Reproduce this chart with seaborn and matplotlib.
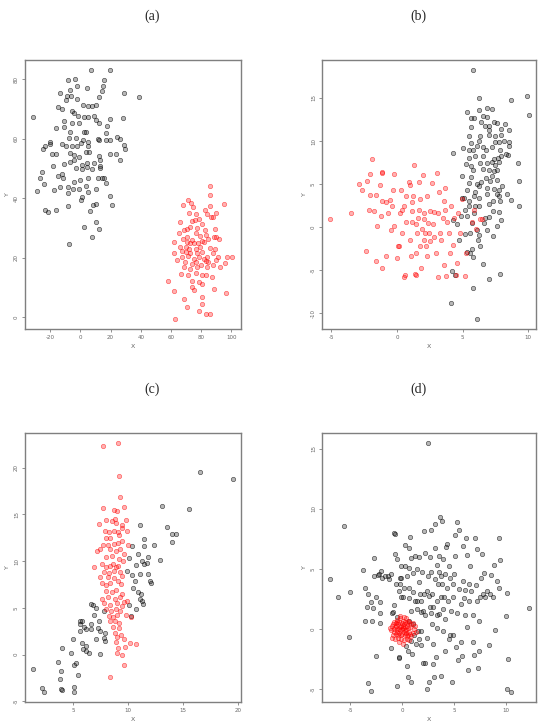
import numpy as np
import pandas as pd
import matplotlib
matplotlib.use('Agg')
import matplotlib.pyplot as plt
import seaborn as sns

# ── Data ─────────────────────────────────────────────────────────────────────

A_BLACK = [(7.1,83.2),(19.4,83.1),(-8.4,79.8),(-3.5,80.2),(15.9,79.8),(-2.2,77.6),(4.4,77.0),(15.0,77.8),
    (-13.7,75.5),(-6.6,76.4),(14.6,76.2),(28.9,75.5),(38.9,74.1),(-8.8,74.5),(-6.2,74.5),(12.4,74.1),
    (-9.7,73.1),(-2.2,73.4),(-31.1,67.2),(-15.0,70.8),(-11.9,70.0),(-5.3,69.4),(-4.4,68.8),(1.8,71.4),
    (4.9,71.0),(7.9,71.0),(10.6,71.4),(-1.3,67.5),(2.2,67.2),(4.9,67.2),(8.8,67.7),(19.9,66.8),(28.0,67.0),
    (-16.3,63.7),(-10.6,66.1),(-5.7,65.4),(-0.9,65.2),(10.6,66.3),(12.4,65.4),(17.7,64.3),(-11.0,63.9),
    (-6.6,62.4),(2.2,62.3),(3.5,62.3),(17.2,62.1),(-7.5,60.3),(-2.6,60.3),(1.8,59.6),(11.5,59.8),(24.3,60.7),
    (26.0,59.8),(-24.7,56.5),(-19.9,59.0),(-20.3,58.2),(-23.4,57.6),(-12.4,58.2),(-9.3,57.4),(-5.3,57.4),
    (-2.2,57.4),(0.4,58.7),(4.9,58.9),(5.3,57.4),(12.4,59.6),(16.8,59.6),(19.9,59.6),(29.1,57.9),(29.6,56.7),
    (-19.0,54.7),(-15.9,54.9),(-7.1,55.3),(-4.4,54.5),(-0.9,54.0),(3.5,55.7),(5.7,55.7),(12.4,54.2),
    (13.2,52.9),(19.4,54.9),(23.4,54.9),(26.5,52.9),(-18.1,50.8),(-11.0,51.5),(-7.1,52.3),(-4.4,52.9),
    (0.9,51.2),(4.4,52.0),(8.8,51.7),(13.2,50.8),(-25.6,48.9),(-14.6,47.3),(-11.9,48.1),(-3.1,50.1),
    (1.3,49.7),(4.4,50.6),(8.0,49.7),(13.2,50.1),(-26.9,46.7),(-24.1,44.8),(-11.5,46.7),(-4.4,45.6),
    (0.0,46.1),(4.9,46.7),(11.5,46.7),(14.6,46.7),(15.5,46.7),(17.2,45.2),(-28.7,42.5),(-17.2,42.8),
    (-13.2,43.7),(-7.9,43.9),(-4.9,43.0),(-0.9,43.2),(3.5,44.1),(4.9,42.2),(10.2,43.0),(-7.9,41.6),
    (0.9,40.3),(0.4,39.4),(19.4,40.7),(8.4,37.7),(10.6,38.0),(21.2,37.6),(-23.4,36.0),(-21.6,35.4),
    (-16.3,36.0),(-8.4,37.4),(6.2,35.8),(10.6,31.9),(2.6,30.2),(12.4,29.7),(7.9,27.0),(-7.5,24.5)]

A_RED = [(86.1,44.1),(86.1,41.0),(95.4,37.9),(71.1,39.3),(73.3,38.5),(68.0,37.8),(74.6,37.0),(85.6,37.3),
    (82.6,36.0),(72.0,34.9),(76.4,34.7),(83.9,34.7),(89.6,35.1),(78.6,33.1),(86.3,33.6),(88.0,33.6),
    (66.2,32.1),(74.2,32.2),(75.9,32.7),(80.8,31.3),(68.4,29.3),(70.6,29.7),(72.8,30.4),(77.3,30.0),
    (82.6,29.3),(89.2,29.5),(62.3,25.3),(66.2,23.7),(68.0,26.2),(70.6,25.3),(72.4,24.8),(74.2,25.9),
    (75.5,25.0),(78.1,24.8),(80.4,25.7),(82.1,25.3),(83.4,27.5),(84.8,26.4),(88.3,27.0),(90.1,26.8),
    (91.8,26.4),(67.1,22.3),(69.8,21.9),(72.0,22.8),(76.8,23.0),(79.5,23.7),(85.6,23.2),(89.2,23.0),
    (62.3,21.4),(67.5,20.1),(71.1,20.5),(75.1,19.6),(78.6,20.3),(81.7,19.4),(84.8,18.5),(91.4,20.3),
    (97.1,20.3),(100.7,20.1),(73.7,17.8),(76.8,18.5),(79.9,17.4),(83.4,18.9),(87.9,17.4),(95.8,18.1),
    (68.4,16.9),(77.3,16.9),(83.9,16.9),(66.7,14.5),(71.5,14.0),(76.4,14.9),(80.8,14.0),(83.4,14.0),
    (87.0,13.6),(58.3,12.2),(74.2,12.2),(78.6,11.8),(80.8,11.1),(73.7,10.0),(88.3,9.3),(61.8,8.9),
    (75.1,9.1),(96.2,8.0),(80.4,6.6),(68.9,6.2),(70.6,3.3),(80.8,4.4),(78.6,1.9),(83.4,1.2),(86.1,1.2),
    (62.5,-0.8),(69.8,23.7),(72.8,21.4),(77.3,21.4),(80.4,21.9),(87.6,21.4),(70.6,27.0),(79.0,27.3),
    (76.4,28.2),(65.3,28.2),(83.9,20.3),(89.6,19.2),(92.7,16.9),(64.0,19.2),(69.3,18.5),(72.4,16.3)]

B_BLACK = [(5.76,18.29),(6.27,15.0),(9.87,15.27),(8.68,14.77),(10.03,13.07),(5.31,13.37),(6.22,13.6),
    (6.88,13.83),(7.24,13.72),(5.66,12.64),(5.86,12.64),(6.52,12.95),(6.88,12.79),(7.39,12.25),(7.64,12.09),
    (8.2,12.02),(5.61,11.63),(6.42,12.25),(6.68,11.78),(7.03,11.7),(7.03,11.31),(8.5,11.23),(7.94,11.39),
    (5.51,10.62),(6.32,10.54),(6.98,10.7),(7.44,10.62),(7.9,10.7),(6.22,10.0),(7.49,9.93),(7.8,9.85),
    (8.15,10.0),(8.55,9.85),(5.61,9.77),(5.0,9.19),(6.06,9.46),(6.52,9.31),(7.24,9.31),(8.5,9.38),
    (4.29,8.58),(5.46,8.92),(5.81,9.0),(6.78,9.0),(7.84,8.92),(8.3,8.53),(8.45,8.42),(5.51,8.03),
    (5.97,8.22),(6.57,8.22),(7.39,7.91),(7.69,8.07),(7.94,8.22),(5.25,7.37),(5.66,7.14),(6.32,7.45),
    (6.83,7.45),(7.24,7.6),(7.49,7.22),(7.74,7.53),(9.22,7.41),(5.76,6.68),(6.52,6.76),(6.98,6.68),
    (7.39,6.53),(7.59,6.68),(4.95,5.98),(5.66,5.83),(7.24,5.9),(6.78,5.67),(5.51,5.13),(6.06,5.05),
    (6.27,4.82),(6.42,5.21),(7.08,5.36),(7.64,5.44),(9.32,5.36),(5.36,4.36),(5.97,4.05),(6.88,4.51),
    (7.39,4.44),(7.8,4.28),(8.0,4.74),(5.86,3.66),(6.27,3.43),(6.83,3.82),(7.59,3.89),(7.8,3.58),
    (8.4,3.82),(4.95,3.35),(5.1,3.43),(5.51,3.04),(6.22,2.5),(5.97,2.5),(7.03,2.73),(7.34,3.04),
    (7.84,3.04),(8.7,3.12),(9.27,2.5),(5.51,2.42),(5.15,1.96),(5.86,1.65),(7.28,1.84),(7.8,1.8),
    (4.85,1.34),(5.36,1.26),(6.73,1.03),(7.03,1.18),(4.29,0.87),(4.59,0.33),(5.71,0.49),(6.62,0.49),
    (7.59,0.1),(7.9,0.87),(6.06,-0.29),(6.88,-0.29),(5.15,-0.75),(5.56,-0.68),(6.22,-0.91),(7.34,-1.07),
    (4.74,-1.45),(6.17,-1.45),(6.32,-2.15),(5.3,-2.93),(5.71,-2.53),(5.56,-3.0),(5.81,-3.47),(6.57,-4.24),
    (4.19,-5.13),(4.44,-5.52),(7.84,-5.44),(6.98,-5.98),(5.81,-7.02),(4.09,-8.76),(6.12,-10.7)]

B_RED = [(-5.08,0.99),(-3.5,1.65),(-2.39,-2.73),(-2.89,5.05),(-2.64,4.36),(-2.28,5.32),(-1.88,7.86),
    (-2.03,6.21),(-2.03,3.78),(-2.13,2.03),(-1.73,1.84),(-1.57,3.74),(-1.32,4.94),(-1.17,6.45),(-1.12,6.29),
    (-1.17,3.0),(-1.22,1.26),(-1.52,0.1),(-1.57,-3.93),(-1.12,-4.78),(-0.86,-3.39),(-0.81,2.88),(-0.71,1.65),
    (-0.56,3.19),(-0.43,-0.37),(-0.2,6.21),(-0.36,2.42),(-0.2,0.1),(0.05,-2.15),(0.15,-2.15),(0.0,-3.58),
    (0.2,1.65),(0.3,4.28),(0.36,2.03),(0.41,-0.67),(0.51,2.42),(0.56,-5.79),(0.61,-5.56),(0.71,0.56),
    (0.91,5.2),(0.96,-1.46),(1.02,4.94),(1.07,-3.39),(1.12,1.84),(1.17,0.56),(1.17,2.96),(1.22,3.66),
    (1.32,7.25),(1.37,-5.4),(1.47,-5.56),(1.47,-3.0),(1.52,-0.67),(1.57,1.07),(1.68,5.2),(1.68,2.03),
    (1.73,3.27),(1.78,-2.23),(1.83,-4.74),(1.93,-0.21),(1.98,6.09),(2.03,0.95),(2.03,-1.46),(2.08,1.65),
    (2.13,-0.67),(2.23,-2.23),(2.28,-3.39),(2.39,0.49),(2.44,-0.67),(2.49,1.84),(2.54,-1.65),(2.64,5.13),
    (2.74,0.41),(2.79,1.8),(2.84,-1.14),(2.94,-3.0),(3.05,6.33),(3.1,1.65),(3.15,-5.79),(3.2,4.05),
    (3.25,-0.67),(3.38,-1.46),(3.5,1.07),(3.55,-4.35),(3.6,3.04),(3.65,4.51),(3.65,2.03),(3.71,-5.64),
    (3.81,0.56),(3.96,-0.67),(4.01,-3.0),(4.11,2.42),(4.26,-2.03),(4.37,1.07),(4.47,-5.56),(4.57,-4.16),
    (4.67,1.65),(4.77,-0.67),(5.18,-5.71),(5.23,-3.0),(4.92,3.27),(5.69,0.56),(5.89,2.03),(6.04,-0.21),
    (6.35,0.95),(6.5,0.95),(1.42,0.41),(2.28,3.66),(0.71,3.58),(-0.3,4.36)]

C_BLACK = [(19.52,18.82),(16.55,19.57),(15.52,15.62),(13.06,15.87),(13.97,12.88),(13.58,13.66),
    (14.36,12.88),(14.0,11.99),(12.94,10.1),(12.36,11.74),(11.48,12.41),(11.06,13.91),(11.48,11.6),
    (10.33,11.6),(10.88,10.74),(11.79,10.46),(10.09,10.38),(10.7,9.53),(11.24,9.96),(11.48,9.67),
    (11.73,9.82),(9.91,8.96),(10.39,8.46),(10.64,7.89),(11.06,8.6),(11.85,8.6),(11.97,7.82),(12.09,7.68),
    (10.45,7.11),(10.88,6.65),(11.18,6.47),(11.12,5.97),(11.3,5.68),(11.36,5.4),(10.09,5.33),(10.7,4.9),
    (10.27,4.12),(6.64,5.4),(6.82,5.33),(7.12,4.97),(6.94,4.26),(7.85,4.69),(5.67,3.55),(5.85,3.62),
    (5.61,3.26),(6.0,2.91),(6.64,3.26),(7.36,3.55),(7.24,2.84),(7.48,2.48),(7.91,2.27),(6.15,2.7),
    (5.67,2.55),(6.64,2.7),(7.85,1.77),(7.91,1.48),(7.06,1.62),(5.0,1.69),(5.85,1.2),(6.21,0.91),
    (5.91,0.56),(6.15,0.34),(6.45,0.13),(7.42,0.06),(4.03,0.7),(4.82,0.2),(3.67,-0.83),(5.24,-0.87),
    (5.06,-1.08),(3.91,-1.72),(5.48,-2.22),(3.79,-2.65),(1.42,-1.55),(2.15,-3.58),(2.39,-4.04),
    (3.91,-3.72),(4.03,-3.79),(5.06,-3.43),(5.12,-4.04)]

C_RED = [(7.76,22.28),(9.09,22.64),(9.15,19.07),(9.24,16.87),(7.73,15.69),(8.7,15.51),(9.0,15.37),
    (9.61,15.76),(7.36,13.95),(8.03,14.44),(8.58,14.3),(8.82,14.48),(8.94,14.09),(9.42,13.91),(9.79,14.41),
    (7.91,13.23),(8.27,13.16),(8.7,13.23),(9.06,13.09),(9.42,13.59),(9.91,13.27),(9.18,12.81),(8.03,12.52),
    (8.39,12.52),(7.73,11.74),(8.15,11.7),(8.76,11.81),(9.06,11.95),(9.48,12.17),(10.03,11.7),(7.18,11.1),
    (7.48,11.24),(8.39,11.24),(8.88,11.1),(9.3,11.24),(9.67,10.81),(8.03,10.46),(8.58,10.56),(9.18,10.21),
    (9.55,9.96),(6.94,9.39),(7.61,9.67),(8.03,9.32),(8.39,9.49),(8.88,9.32),(9.12,9.49),(7.79,8.78),
    (8.27,8.68),(8.7,8.89),(9.3,8.82),(9.48,8.43),(7.48,8.25),(8.15,8.25),(8.76,8.18),(7.61,7.71),
    (7.97,7.46),(8.39,7.71),(9.12,7.82),(9.36,7.54),(8.03,6.82),(8.58,6.65),(8.94,6.89),(9.48,6.47),
    (7.67,5.93),(8.21,6.11),(8.82,5.9),(9.24,6.11),(9.67,5.61),(7.85,5.47),(8.39,5.33),(9.0,5.47),
    (9.48,5.22),(8.03,4.86),(8.45,4.69),(8.88,4.83),(9.3,4.62),(9.79,4.19),(8.27,4.12),(8.64,4.05),
    (9.0,4.26),(8.33,3.62),(8.82,3.55),(9.18,3.4),(8.64,2.98),(9.18,2.83),(8.82,2.34),(9.0,1.91),
    (9.36,2.12),(9.67,1.62),(10.15,1.27),(10.7,1.13),(8.94,1.31),(9.06,0.7),(9.73,0.77),(9.0,0.13),
    (9.48,-0.09),(9.61,-1.15),(8.39,-2.36),(9.91,5.75),(10.27,3.97),(8.64,9.74)]

D_BLACK = [(2.52,15.44),(-5.58,8.58),(-6.96,4.13),(-6.19,2.64),(-5.03,3.13),(-5.16,-0.65),(-3.75,4.93),
    (-3.62,3.41),(-3.62,0.64),(-3.36,1.87),(-3.24,2.91),(-3.24,-4.5),(-2.99,-5.11),(-2.99,2.24),(-2.92,0.64),
    (-2.8,1.72),(-2.74,5.95),(-2.68,4.4),(-2.48,2.64),(-2.48,-2.23),(-2.35,4.51),(-2.22,4.62),(-2.1,2.24),
    (-2.04,4.84),(-2.16,1.31),(-2.1,0.53),(-1.91,4.29),(-1.65,4.4),(-1.33,4.4),(-1.27,4.16),(-1.08,4.62),
    (-0.98,1.37),(-1.05,-1.57),(-0.92,1.39),(-0.79,1.97),(-0.79,8.03),(-0.73,7.89),(-0.66,6.23),(-0.6,3.74),
    (-0.54,5.79),(-0.47,-4.7),(-0.35,-2.29),(-0.28,-2.4),(-0.28,3.19),(-0.22,4.29),(-0.22,3.79),(-0.15,5.23),
    (-0.15,2.64),(-0.09,4.29),(0.11,2.69),(0.17,3.41),(0.3,7.0),(0.3,5.23),(0.36,-1.42),(0.43,4.43),
    (0.49,-3.08),(0.56,-3.94),(0.56,-1.79),(0.62,2.59),(0.68,5.12),(0.68,3.46),(0.68,6.73),(0.75,7.66),
    (0.81,-0.95),(0.81,1.54),(0.88,-4.42),(0.88,5.95),(0.94,-2.09),(1.01,3.08),(1.07,4.68),(1.13,-0.46),
    (1.2,6.12),(1.26,2.36),(1.33,-1.23),(1.39,4.96),(1.39,1.64),(1.46,2.3),(1.52,-0.13),(1.58,6.01),
    (1.65,3.96),(1.65,-0.8),(1.71,2.91),(1.78,1.42),(1.84,2.3),(1.9,4.79),(1.97,-2.79),(2.03,1.53),
    (2.1,8.17),(2.1,2.91),(2.16,6.37),(2.22,1.2),(2.22,-2.84),(2.35,3.19),(2.42,-0.74),(2.42,-4.98),
    (2.48,4.43),(2.55,2.76),(2.55,-4.42),(2.68,6.01),(2.74,8.23),(2.74,4.79),(2.8,1.31),(2.87,0.42),
    (2.87,2.91),(2.94,1.81),(2.94,-2.9),(3.0,-1.23),(3.06,-3.94),(3.13,6.78),(3.13,4.13),(3.19,8.72),
    (3.25,-2.35),(3.32,2.36),(3.32,1.2),(3.38,5.35),(3.38,0.09),(3.45,3.74),(3.51,4.71),(3.51,1.26),
    (3.57,6.09),(3.64,9.28),(3.7,4.4),(3.7,2.64),(3.77,-3.91),(3.83,9.0),(3.83,3.74),(3.9,-0.13),
    (3.96,5.79),(3.96,1.64),(4.03,2.64),(4.09,-1.79),(4.16,4.57),(4.16,0.84),(4.22,6.84),(4.29,7.06),
    (4.35,3.41),(4.42,2.36),(4.48,-0.82),(4.55,5.29),(4.61,4.29),(4.61,-0.46),(4.74,1.53),(4.8,-4.39),
    (4.87,3.74),(4.93,2.64),(4.93,-0.52),(5.0,4.57),(5.06,7.79),(5.12,6.12),(5.19,-1.51),(5.25,8.94),
    (5.32,1.37),(5.38,-2.56),(5.45,8.28),(5.51,3.3),(5.64,2.09),(5.7,-1.07),(5.77,-2.23),(5.83,6.95),
    (5.9,4.02),(5.96,2.58),(6.02,1.2),(6.09,3.24),(6.15,7.61),(6.22,6.17),(6.28,0.15),(6.35,-3.42),
    (6.41,2.3),(6.54,5.23),(6.6,3.19),(6.8,1.2),(6.86,-1.1),(6.92,-2.18),(7.05,7.61),(7.12,3.69),
    (7.18,2.3),(7.24,6.7),(7.3,-3.25),(7.37,-1.79),(7.43,0.64),(7.5,2.64),(7.63,4.29),(7.69,6.28),
    (7.75,2.91),(7.88,4.65),(8.01,2.64),(8.14,3.19),(8.33,-1.29),(8.46,2.91),(8.59,4.51),(8.78,2.64),
    (8.85,5.35),(8.97,-0.07),(9.1,4.02),(9.3,7.61),(9.42,5.73),(9.36,3.46),(10.14,3.02),(10.01,1.09),
    (10.2,-2.45),(10.07,-4.97),(10.51,-5.25),(12.19,1.72),(6.47,3.74),(-0.47,0.98),(0.62,0.7),(1.07,0.42),
    (1.84,-0.13),(1.78,-1.29),(2.68,1.81)]

D_RED = [(-0.8,0.6),(-0.5,0.8),(-0.2,0.9),(0.1,0.7),(0.4,0.9),(0.7,0.6),(1.0,0.5),(1.2,0.3),(-1.0,0.3),
    (-0.7,0.2),(-0.4,0.4),(-0.1,0.3),(0.2,0.4),(0.5,0.3),(0.8,0.2),(1.1,0.0),(-1.1,-0.1),(-0.8,-0.2),
    (-0.5,0.0),(-0.2,-0.1),(0.1,0.1),(0.4,-0.1),(0.7,-0.2),(1.0,-0.3),(-0.9,-0.5),(-0.6,-0.4),(-0.3,-0.3),
    (0.0,-0.4),(0.3,-0.5),(0.6,-0.5),(0.9,-0.6),(-0.7,-0.8),(-0.4,-0.7),(-0.1,-0.8),(0.2,-0.9),(0.5,-0.8),
    (-0.3,0.6),(0.0,0.5),(0.3,0.6),(0.6,0.1),(-0.6,0.5),(0.9,0.4),(-1.2,0.1),(-0.3,-1.1),(0.1,-1.2),
    (-0.5,-0.2),(0.2,-0.2),(0.5,0.5),(-0.2,0.2),(0.0,0.0),(0.3,0.2),(-0.8,0.0),(0.8,-0.4),(-0.4,-0.5),
    (0.4,-0.3),(-0.1,-0.5),(0.1,0.3),(-0.6,0.3),(0.6,0.7),(1.3,-0.2),(-1.0,-0.7),(0.7,-0.9),(-0.2,1.1),
    (0.2,1.0),(-0.3,0.0),(0.3,-0.1),(0.5,-0.6),(-0.5,0.6),(-0.9,0.4)]

PANEL_LABELS = ['(a)', '(b)', '(c)', '(d)']
XTICKS = [[-20, 0, 20, 40, 60, 80, 100], [-5, 0, 5, 10], [5, 10, 15, 20], [-5, 0, 5, 10]]
YTICKS = [[0, 20, 40, 60, 80], [-10, -5, 0, 5, 10, 15], [-5, 0, 5, 10, 15, 20], [-5, 0, 5, 10, 15]]
XLIMS = [(-36.6, 106.6), (-5.7, 10.6), (0.66, 20.3), (-7.7, 12.9)]
YLIMS = [(-4.0, 86.5), (-11.8, 19.4), (-5.07, 23.7), (-6.05, 16.3)]

# ── Style ────────────────────────────────────────────────────────────────────

BLACK_FACE = (0.0, 0.0, 0.0, 0.28)
BLACK_EDGE = (0.0, 0.0, 0.0, 0.62)
RED_FACE = (1.0, 0.0, 0.0, 0.30)
RED_EDGE = (1.0, 0.0, 0.0, 0.55)
FRAME = '#7f7f7f'

sns.set_style('white')
plt.rcParams['axes.unicode_minus'] = False

# axes rects in figure fractions (left, bottom, width, height)
RECTS = [(0.046, 0.5475, 0.396, 0.370), (0.590, 0.5475, 0.392, 0.370),
         (0.046, 0.0344, 0.396, 0.370), (0.590, 0.0344, 0.392, 0.370)]
TITLE_POS = [(0.278, 0.978), (0.766, 0.978), (0.278, 0.465), (0.766, 0.465)]


def to_df(pairs):
    return pd.DataFrame(pairs, columns=['X', 'Y'])


fig = plt.figure(figsize=(5.46, 7.27), dpi=100)

panels = [(A_BLACK, A_RED), (B_BLACK, B_RED), (C_BLACK, C_RED), (D_BLACK, D_RED)]

for i, (blk, red) in enumerate(panels):
    ax = fig.add_axes(RECTS[i])
    sns.scatterplot(data=to_df(blk), x='X', y='Y', ax=ax, s=10,
                    color=BLACK_FACE, edgecolor=BLACK_EDGE, linewidth=0.5)
    sns.scatterplot(data=to_df(red), x='X', y='Y', ax=ax, s=10,
                    color=RED_FACE, edgecolor=RED_EDGE, linewidth=0.5)
    ax.set_xlim(*XLIMS[i])
    ax.set_ylim(*YLIMS[i])
    ax.set_xticks(XTICKS[i])
    ax.set_yticks(YTICKS[i])
    ax.tick_params(axis='both', direction='out', length=2.5, width=0.6,
                   color=FRAME, labelsize=4, labelcolor='#666666', pad=2)
    ax.tick_params(axis='x', bottom=True)
    ax.tick_params(axis='y', left=True)
    for lab in ax.get_yticklabels():
        lab.set_rotation(90)
        lab.set_va('center')
    ax.set_xlabel('X', fontsize=4.5, color='#666666', labelpad=3)
    ax.set_ylabel('Y', fontsize=4.5, color='#666666', labelpad=3)
    for sp in ax.spines.values():
        sp.set_color(FRAME)
        sp.set_linewidth(1.0)
    fig.text(*TITLE_POS[i], PANEL_LABELS[i], ha='center', va='center',
             fontsize=10, family='Liberation Serif')

plt.savefig('out.png', dpi=100)
plt.close()
